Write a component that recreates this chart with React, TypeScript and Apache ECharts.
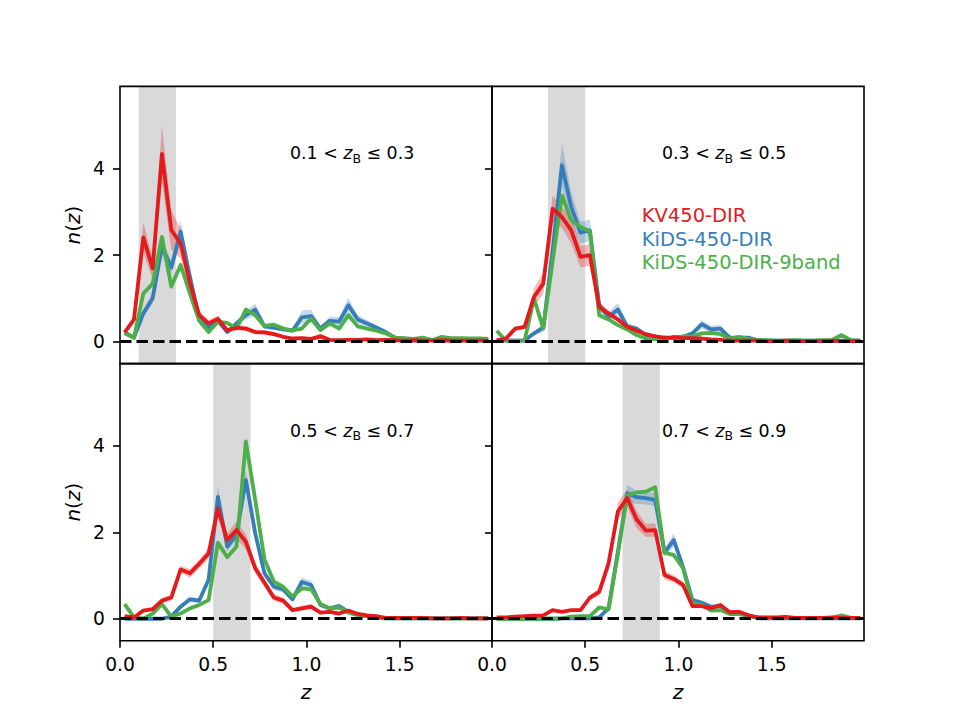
import React, { useEffect, useRef } from "react";
import * as echarts from "echarts";

// Redshift bin centres (dz = 0.05)
const Z_BINS = [
  0.025, 0.075, 0.125, 0.175, 0.225, 0.275, 0.325, 0.375, 0.425, 0.475,
  0.525, 0.575, 0.625, 0.675, 0.725, 0.775, 0.825, 0.875, 0.925, 0.975,
  1.025, 1.075, 1.125, 1.175, 1.225, 1.275, 1.325, 1.375, 1.425, 1.475,
  1.525, 1.575, 1.625, 1.675, 1.725, 1.775, 1.825, 1.875, 1.925, 1.975,
];
const X_TICKS = [0, 0.5, 1.0, 1.5];
const Y_TICKS = [0, 2, 4];

// Tomographic bin edges in z_B
const ZB_LO = [0.1, 0.3, 0.5, 0.7];
const ZB_HI = [0.3, 0.5, 0.7, 0.9];

const SAMPLE_NAMES = ["KV450-DIR", "KiDS-450-DIR", "KiDS-450-DIR-9band"];

// KV450-DIR n(z)
const kv450Bin1 = [0.21, 0.51, 2.41, 1.69, 4.34, 2.58, 2.27, 1.35, 0.61, 0.42, 0.52, 0.26, 0.32, 0.30, 0.22, 0.21, 0.17, 0.11, 0.07, 0.08, 0.06, 0.12, 0.04, 0.03, 0.04, 0.04, 0.05, 0.03, 0.04, 0.03, 0.02, 0.03, 0.02, 0.02, 0.03, 0.02, 0.02, 0.02, 0.02, 0.02];
const kv450Bin2 = [0.03, 0.07, 0.30, 0.34, 1.03, 1.34, 3.07, 2.88, 2.57, 1.96, 2.00, 0.80, 0.65, 0.51, 0.34, 0.25, 0.17, 0.12, 0.09, 0.09, 0.08, 0.08, 0.07, 0.05, 0.04, 0.02, 0.02, 0.02, 0.02, 0.01, 0.01, 0.02, 0.01, 0.01, 0.01, 0.01, 0.02, 0.01, 0.01, 0.01];
const kv450Bin3 = [0.06, 0.03, 0.19, 0.22, 0.42, 0.49, 1.14, 1.05, 1.27, 1.51, 2.55, 1.82, 2.05, 1.78, 1.17, 0.83, 0.49, 0.42, 0.20, 0.24, 0.28, 0.14, 0.16, 0.12, 0.19, 0.11, 0.08, 0.06, 0.02, 0.02, 0.02, 0.02, 0.02, 0.01, 0.01, 0.01, 0.02, 0.01, 0.01, 0.01];
const kv450Bin4 = [0.03, 0.03, 0.05, 0.06, 0.07, 0.08, 0.20, 0.16, 0.20, 0.20, 0.49, 0.62, 1.28, 2.48, 2.79, 2.30, 2.04, 2.05, 1.01, 0.92, 0.78, 0.29, 0.29, 0.24, 0.32, 0.15, 0.16, 0.08, 0.03, 0.03, 0.03, 0.04, 0.02, 0.02, 0.02, 0.02, 0.03, 0.02, 0.02, 0.02];

// KiDS-450-DIR n(z)
const kids450Bin1 = [0.21, 0.09, 0.65, 1.00, 2.19, 1.71, 2.54, 1.50, 0.53, 0.32, 0.48, 0.22, 0.42, 0.61, 0.74, 0.35, 0.32, 0.28, 0.25, 0.56, 0.59, 0.30, 0.48, 0.46, 0.84, 0.51, 0.42, 0.32, 0.22, 0.09, 0.07, 0.05, 0.05, 0.04, 0.04, 0.04, 0.04, 0.04, 0.03, 0.03];
const kids450Bin2 = [0.03, 0.02, 0.02, 0.02, 0.19, 0.32, 2.10, 4.08, 3.11, 2.52, 2.57, 0.84, 0.57, 0.74, 0.35, 0.30, 0.15, 0.12, 0.05, 0.11, 0.11, 0.19, 0.40, 0.28, 0.30, 0.09, 0.09, 0.09, 0.03, 0.02, 0.02, 0.02, 0.02, 0.02, 0.02, 0.02, 0.02, 0.02, 0.02, 0.02];
const kids450Bin3 = [0.00, 0.00, 0.00, 0.00, 0.00, 0.05, 0.28, 0.45, 0.42, 0.90, 2.82, 1.67, 1.94, 3.21, 1.98, 1.05, 0.74, 0.68, 0.45, 0.85, 0.78, 0.32, 0.24, 0.29, 0.16, 0.11, 0.06, 0.03, 0.01, 0.01, 0.01, 0.01, 0.01, 0.01, 0.01, 0.01, 0.01, 0.01, 0.01, 0.01];
const kids450Bin4 = [0.00, 0.00, 0.00, 0.00, 0.00, 0.00, 0.00, 0.01, 0.01, 0.01, 0.01, 0.03, 0.24, 1.55, 2.90, 2.81, 2.79, 2.75, 1.53, 1.82, 1.19, 0.43, 0.37, 0.28, 0.29, 0.14, 0.14, 0.08, 0.01, 0.01, 0.01, 0.01, 0.01, 0.01, 0.01, 0.01, 0.01, 0.01, 0.01, 0.01];

// KiDS-450-DIR-9band n(z)
const nineBandBin1 = [0.19, 0.09, 1.11, 1.34, 2.42, 1.27, 1.77, 1.11, 0.48, 0.22, 0.46, 0.43, 0.30, 0.74, 0.61, 0.36, 0.39, 0.30, 0.26, 0.30, 0.53, 0.26, 0.42, 0.30, 0.61, 0.35, 0.30, 0.25, 0.19, 0.09, 0.08, 0.06, 0.09, 0.03, 0.11, 0.08, 0.08, 0.07, 0.07, 0.06];
const nineBandBin2 = [0.25, 0.02, 0.02, 0.02, 1.00, 0.30, 1.85, 3.38, 2.80, 2.65, 2.55, 0.61, 0.51, 0.38, 0.28, 0.15, 0.07, 0.05, 0.09, 0.08, 0.12, 0.12, 0.19, 0.20, 0.17, 0.07, 0.11, 0.06, 0.03, 0.03, 0.02, 0.02, 0.03, 0.02, 0.02, 0.03, 0.04, 0.15, 0.03, 0.02];
const nineBandBin3 = [0.34, 0.03, 0.00, 0.12, 0.34, 0.05, 0.12, 0.24, 0.32, 0.43, 1.76, 1.42, 1.67, 4.10, 2.75, 1.37, 0.86, 0.74, 0.52, 0.70, 0.68, 0.34, 0.24, 0.26, 0.14, 0.08, 0.06, 0.03, 0.01, 0.01, 0.01, 0.01, 0.01, 0.01, 0.01, 0.01, 0.01, 0.01, 0.01, 0.01];
const nineBandBin4 = [0.00, 0.00, 0.00, 0.00, 0.00, 0.00, 0.00, 0.01, 0.05, 0.06, 0.06, 0.26, 0.22, 1.50, 2.86, 2.92, 2.94, 3.04, 1.53, 1.47, 1.17, 0.35, 0.32, 0.19, 0.20, 0.11, 0.11, 0.06, 0.03, 0.02, 0.02, 0.02, 0.02, 0.02, 0.02, 0.02, 0.02, 0.08, 0.02, 0.02];

// 1-sigma uncertainties (KV450-DIR and KiDS-450-DIR)
const kv450Err1 = [0.05, 0.10, 0.35, 0.25, 0.65, 0.45, 0.35, 0.20, 0.10, 0.08, 0.08, 0.05, 0.06, 0.06, 0.05, 0.05, 0.05, 0.04, 0.03, 0.03, 0.03, 0.07, 0.02, 0.02, 0.02, 0.02, 0.02, 0.02, 0.02, 0.02, 0.02, 0.02, 0.02, 0.02, 0.02, 0.02, 0.02, 0.02, 0.02, 0.02];
const kv450Err2 = [0.02, 0.03, 0.05, 0.05, 0.20, 0.25, 0.30, 0.25, 0.30, 0.25, 0.25, 0.10, 0.08, 0.06, 0.05, 0.04, 0.03, 0.03, 0.03, 0.03, 0.03, 0.03, 0.02, 0.02, 0.02, 0.02, 0.02, 0.02, 0.02, 0.02, 0.02, 0.02, 0.02, 0.02, 0.02, 0.02, 0.02, 0.02, 0.02, 0.02];
const kv450Err3 = [0.02, 0.02, 0.04, 0.04, 0.06, 0.07, 0.08, 0.10, 0.10, 0.12, 0.20, 0.15, 0.20, 0.18, 0.12, 0.10, 0.08, 0.07, 0.05, 0.06, 0.06, 0.04, 0.04, 0.04, 0.04, 0.03, 0.03, 0.02, 0.02, 0.02, 0.02, 0.02, 0.02, 0.02, 0.02, 0.02, 0.02, 0.02, 0.02, 0.02];
const kv450Err4 = [0.02, 0.02, 0.02, 0.02, 0.02, 0.02, 0.03, 0.03, 0.03, 0.03, 0.06, 0.08, 0.15, 0.20, 0.20, 0.20, 0.15, 0.15, 0.10, 0.08, 0.08, 0.05, 0.04, 0.04, 0.04, 0.03, 0.03, 0.02, 0.02, 0.02, 0.02, 0.02, 0.02, 0.02, 0.02, 0.02, 0.02, 0.02, 0.02, 0.02];
const kids450Err1 = [0.05, 0.04, 0.10, 0.12, 0.20, 0.15, 0.25, 0.15, 0.08, 0.05, 0.06, 0.04, 0.06, 0.10, 0.14, 0.06, 0.06, 0.05, 0.05, 0.15, 0.15, 0.06, 0.10, 0.10, 0.17, 0.10, 0.08, 0.07, 0.05, 0.02, 0.02, 0.02, 0.02, 0.02, 0.02, 0.02, 0.02, 0.02, 0.02, 0.02];
const kids450Err2 = [0.02, 0.02, 0.02, 0.02, 0.05, 0.10, 0.30, 0.50, 0.35, 0.25, 0.25, 0.10, 0.10, 0.15, 0.08, 0.06, 0.04, 0.04, 0.03, 0.04, 0.04, 0.05, 0.10, 0.08, 0.08, 0.03, 0.03, 0.03, 0.02, 0.02, 0.02, 0.02, 0.02, 0.02, 0.02, 0.02, 0.02, 0.02, 0.02, 0.02];
const kids450Err3 = [0.01, 0.01, 0.01, 0.01, 0.02, 0.03, 0.05, 0.06, 0.06, 0.10, 0.25, 0.12, 0.12, 0.20, 0.12, 0.08, 0.08, 0.07, 0.06, 0.10, 0.10, 0.05, 0.05, 0.07, 0.04, 0.03, 0.02, 0.02, 0.01, 0.01, 0.01, 0.01, 0.01, 0.01, 0.01, 0.01, 0.01, 0.01, 0.01, 0.01];
const kids450Err4 = [0.01, 0.01, 0.01, 0.01, 0.01, 0.01, 0.01, 0.01, 0.01, 0.01, 0.01, 0.02, 0.05, 0.10, 0.20, 0.15, 0.15, 0.15, 0.10, 0.15, 0.08, 0.06, 0.06, 0.04, 0.04, 0.03, 0.03, 0.02, 0.01, 0.01, 0.01, 0.01, 0.01, 0.01, 0.01, 0.01, 0.01, 0.01, 0.01, 0.01];

const KV450 = [kv450Bin1, kv450Bin2, kv450Bin3, kv450Bin4];
const KIDS450 = [kids450Bin1, kids450Bin2, kids450Bin3, kids450Bin4];
const NINEBAND = [nineBandBin1, nineBandBin2, nineBandBin3, nineBandBin4];
const KV450_ERR = [kv450Err1, kv450Err2, kv450Err3, kv450Err4];
const KIDS450_ERR = [kids450Err1, kids450Err2, kids450Err3, kids450Err4];

const RED = "#e41a1c";
const BLUE = "#377eb8";
const GREEN = "#4daf4a";
const RED_BAND = "rgba(228,26,28,0.3)";
const BLUE_BAND = "rgba(55,126,184,0.3)";
const FONT = "DejaVu Sans";

const GRID_LEFT = [120, 492];
const GRID_TOP = [86.4, 363.6];
const GRID_W = 372;
const GRID_H = 277.2;
const X_MAX = 1.995;
const Y_MIN = -0.51;
const Y_MAX = 5.9;

function bandSeries(k: number, vals: number[], errs: number[], fill: string) {
  const rows = Z_BINS.map((z, i) => [z, vals[i] - errs[i], vals[i] + errs[i]]);
  return {
    type: "custom",
    xAxisIndex: k,
    yAxisIndex: k,
    z: 2,
    silent: true,
    data: rows,
    encode: { x: 0, y: [1, 2] },
    renderItem: (params: any, api: any) => {
      if (params.dataIndex !== 0) return null;
      const upper = rows.map((r) => api.coord([r[0], r[2]]));
      const lower = rows.map((r) => api.coord([r[0], r[1]])).reverse();
      return {
        type: "polygon",
        shape: { points: upper.concat(lower) },
        style: { fill, stroke: "none" },
      };
    },
  };
}

function lineSeries(k: number, name: string, vals: number[], color: string, z: number, extra: any = {}) {
  return {
    type: "line",
    name,
    xAxisIndex: k,
    yAxisIndex: k,
    z,
    data: Z_BINS.map((zb, i) => [zb, vals[i]]),
    showSymbol: false,
    symbol: "none",
    silent: true,
    lineStyle: { color, width: 3.8, join: "round" },
    ...extra,
  };
}

function buildOption() {
  const grid: any[] = [];
  const xAxis: any[] = [];
  const yAxis: any[] = [];
  const series: any[] = [];
  const graphic: any[] = [];

  for (let k = 0; k < 4; k++) {
    const row = Math.floor(k / 2);
    const col = k % 2;
    const left = GRID_LEFT[col];
    const top = GRID_TOP[row];
    const bottomRow = row === 1;
    const leftCol = col === 0;

    grid.push({ left, top, width: GRID_W, height: GRID_H, show: false });

    xAxis.push({
      type: "value",
      gridIndex: k,
      min: 0,
      max: X_MAX,
      axisLine: { show: false, onZero: false },
      splitLine: { show: false },
      axisTick: {
        show: bottomRow,
        length: 7,
        customValues: X_TICKS,
        lineStyle: { color: "#000", width: 1.6 },
      },
      axisLabel: {
        show: bottomRow,
        customValues: X_TICKS,
        formatter: (v: number) => v.toFixed(1),
        color: "#000",
        fontFamily: FONT,
        fontSize: 18.7,
        margin: 14,
      },
    });

    yAxis.push({
      type: "value",
      gridIndex: k,
      min: Y_MIN,
      max: Y_MAX,
      axisLine: { show: false, onZero: false },
      splitLine: { show: false },
      axisTick: {
        show: true,
        length: 7,
        customValues: Y_TICKS,
        lineStyle: { color: "#000", width: 1.6 },
      },
      axisLabel: {
        show: leftCol,
        customValues: Y_TICKS,
        formatter: (v: number) => String(v),
        color: "#000",
        fontFamily: FONT,
        fontSize: 18.7,
        margin: 15,
      },
    });

    series.push(bandSeries(k, KIDS450[k], KIDS450_ERR[k], BLUE_BAND));
    series.push(bandSeries(k, KV450[k], KV450_ERR[k], RED_BAND));
    series.push(
      lineSeries(k, SAMPLE_NAMES[1], KIDS450[k], BLUE, 3, {
        markArea: {
          silent: true,
          z: 1,
          itemStyle: { color: "#d9d9d9" },
          label: { show: false },
          data: [[{ xAxis: ZB_LO[k] }, { xAxis: ZB_HI[k] }]],
        },
      })
    );
    series.push(lineSeries(k, SAMPLE_NAMES[2], NINEBAND[k], GREEN, 4));
    series.push(
      lineSeries(k, SAMPLE_NAMES[0], KV450[k], RED, 5, {
        markLine: {
          silent: true,
          z: 10,
          symbol: ["none", "none"],
          label: { show: false },
          lineStyle: { color: "#000", width: 3, type: [11.5, 5] },
          data: [{ yAxis: 0 }],
        },
      })
    );

    // frame around each panel
    graphic.push({
      type: "rect",
      silent: true,
      z: 100,
      shape: { x: left, y: top, width: GRID_W, height: GRID_H },
      style: { fill: "none", stroke: "#000", lineWidth: 1.6 },
    });

    // z_B bin annotation
    graphic.push({
      type: "text",
      silent: true,
      z: 100,
      x: left + 170,
      y: top + 67,
      style: {
        text: `{n|${ZB_LO[k].toFixed(1)} < }{i|z}{s|B}{n| ≤ ${ZB_HI[k].toFixed(1)}}`,
        align: "left",
        verticalAlign: "middle",
        rich: {
          n: { fontFamily: FONT, fontSize: 17.4, fill: "#000" },
          i: { fontFamily: FONT, fontSize: 17.4, fontStyle: "italic", fill: "#000" },
          s: { fontFamily: FONT, fontSize: 12.5, fill: "#000", padding: [10, 0, 0, 0] },
        },
      },
    });
  }

  // y-axis titles
  for (let row = 0; row < 2; row++) {
    graphic.push({
      type: "text",
      silent: true,
      x: 73,
      y: GRID_TOP[row] + GRID_H / 2,
      rotation: Math.PI / 2,
      style: {
        text: "{i|n}{r|(}{i|z}{r|)}",
        align: "center",
        verticalAlign: "middle",
        rich: {
          i: { fontFamily: FONT, fontSize: 20, fontStyle: "italic", fill: "#000" },
          r: { fontFamily: FONT, fontSize: 20, fill: "#000" },
        },
      },
    });
  }

  // x-axis titles
  for (let col = 0; col < 2; col++) {
    graphic.push({
      type: "text",
      silent: true,
      x: GRID_LEFT[col] + GRID_W / 2,
      y: 692,
      style: {
        text: "z",
        align: "center",
        verticalAlign: "middle",
        fontFamily: FONT,
        fontSize: 20,
        fontStyle: "italic",
        fill: "#000",
      },
    });
  }

  // legend: one text block, each entry coloured like its curve
  const legendColors = [RED, BLUE, GREEN];
  const legendKeys = ["a", "b", "c"];
  const legendRich: any = {};
  legendKeys.forEach((key, i) => {
    legendRich[key] = {
      fontFamily: FONT,
      fontSize: 19.5,
      lineHeight: 23.5,
      fill: legendColors[i],
    };
  });
  graphic.push({
    type: "text",
    silent: true,
    z: 100,
    x: 641.7,
    y: 239.4,
    style: {
      text: SAMPLE_NAMES.map((name, i) => `{${legendKeys[i]}|${name}}`).join("\n"),
      align: "left",
      verticalAlign: "middle",
      rich: legendRich,
    },
  });

  return {
    animation: false,
    backgroundColor: "#fff",
    grid,
    xAxis,
    yAxis,
    series,
    graphic,
  };
}

export default function App() {
  const ref = useRef<HTMLDivElement>(null);
  useEffect(() => {
    if (!ref.current) return;
    const chart = echarts.init(ref.current, null, { renderer: "svg" });
    chart.setOption(buildOption() as any);
    return () => chart.dispose();
  }, []);
  return (
    <div
      ref={ref}
      style={{ position: "fixed", left: 0, top: 0, width: 960, height: 720, background: "#fff" }}
    />
  );
}
